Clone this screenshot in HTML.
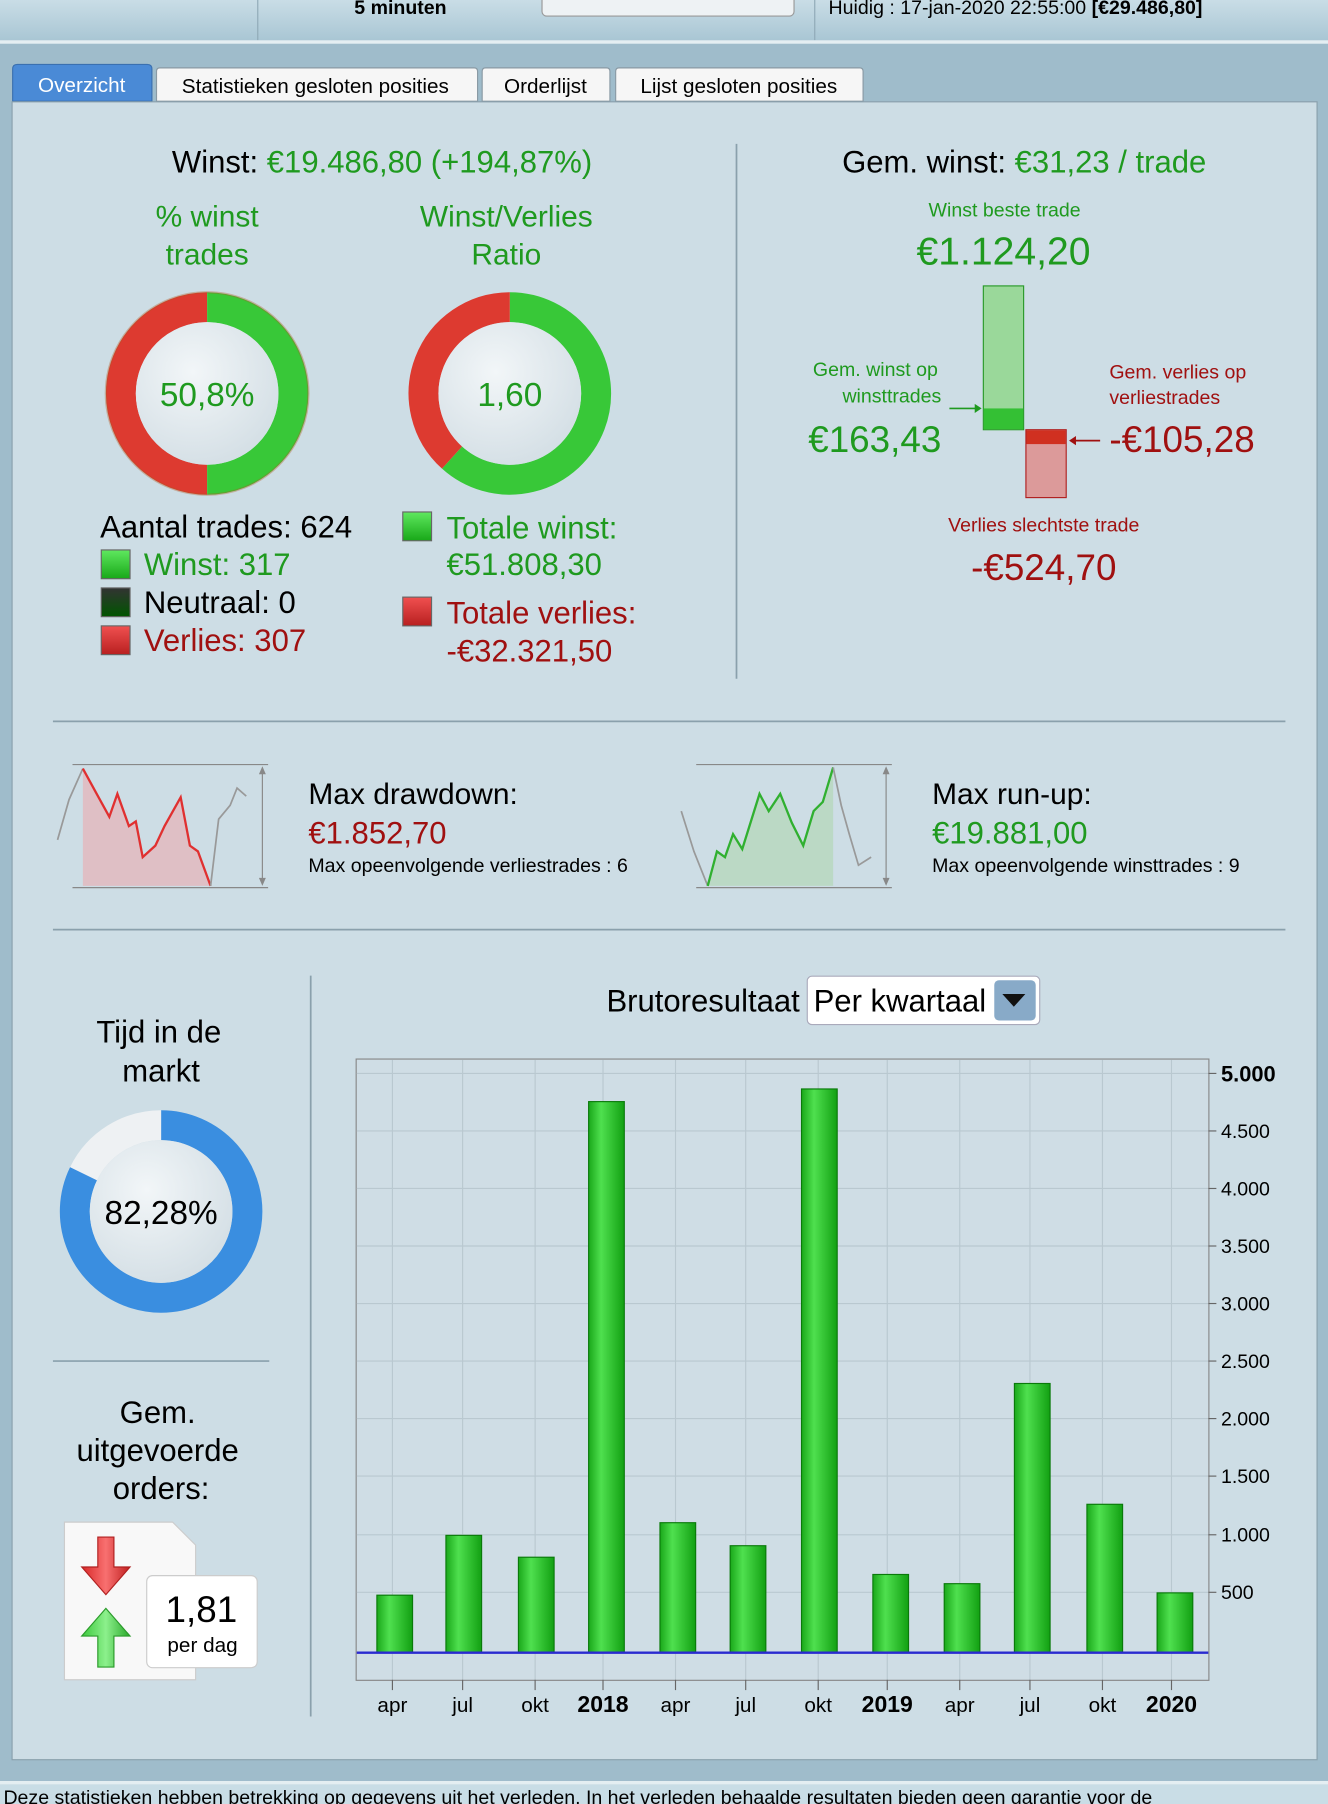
<!DOCTYPE html>
<html><head><meta charset="utf-8"><style>
html,body{margin:0;padding:0;width:1328px;height:1804px;overflow:hidden;background:#9fbccb}
svg{display:block}
text{font-family:"Liberation Sans",Arial,sans-serif}
</style></head><body>
<svg width="1328" height="1804" viewBox="0 0 1154 1568" preserveAspectRatio="none" xmlns="http://www.w3.org/2000/svg">
<defs>
<linearGradient id="top" x1="0" y1="0" x2="0" y2="1"><stop offset="0" stop-color="#c9dde6"/><stop offset="1" stop-color="#a9c6d4"/></linearGradient>
<linearGradient id="bar" x1="0" y1="0" x2="1" y2="0"><stop offset="0" stop-color="#1aa81a"/><stop offset="0.35" stop-color="#4fe04f"/><stop offset="1" stop-color="#12a012"/></linearGradient>
<radialGradient id="inner" cx="0.4" cy="0.35" r="0.8"><stop offset="0" stop-color="#f2f6f8"/><stop offset="1" stop-color="#cfdbe2"/></radialGradient>
<linearGradient id="gsq" x1="0" y1="0" x2="0" y2="1"><stop offset="0" stop-color="#5fe85f"/><stop offset="1" stop-color="#18a818"/></linearGradient>
<linearGradient id="rsq" x1="0" y1="0" x2="0" y2="1"><stop offset="0" stop-color="#f05050"/><stop offset="1" stop-color="#b82020"/></linearGradient>
<linearGradient id="ksq" x1="0" y1="0" x2="0" y2="1"><stop offset="0" stop-color="#333"/><stop offset="1" stop-color="#050"/></linearGradient>
<linearGradient id="ga" x1="0" y1="0" x2="1" y2="0"><stop offset="0" stop-color="#3cc83c"/><stop offset="0.5" stop-color="#8cf08c"/><stop offset="1" stop-color="#2aa82a"/></linearGradient>
<linearGradient id="ra" x1="0" y1="0" x2="1" y2="0"><stop offset="0" stop-color="#d82828"/><stop offset="0.5" stop-color="#f87070"/><stop offset="1" stop-color="#c02020"/></linearGradient>
</defs>
<rect x="0" y="0" width="1154" height="35" fill="url(#top)"/>
<line x1="224" y1="0" x2="224" y2="35" stroke="#8fa9b6"/>
<line x1="708" y1="0" x2="708" y2="35" stroke="#8fa9b6"/>
<text x="348" y="12" font-size="17" font-weight="bold" text-anchor="middle">5 minuten</text>
<rect x="471" y="-6" width="219" height="20" rx="4" fill="#eef2f4" stroke="#999"/>
<text x="720" y="12" font-size="17">Huidig :  17-jan-2020 22:55:00  <tspan font-weight="bold">[€29.486,80]</tspan></text>
<rect x="0" y="35" width="1154" height="3" fill="#e4eef2"/>
<path d="M11,88 V60 Q11,56 15,56 H128 Q132,56 132,60 V88 Z" fill="#4a8ad6" stroke="#3a70b0"/>
<text x="71" y="80" font-size="18" fill="#fff" text-anchor="middle">Overzicht</text>
<g fill="#f6f6f6" stroke="#8a9aa4">
<path d="M136,88 V62 Q136,59 139,59 H412 Q415,59 415,62 V88 Z"/>
<path d="M419,88 V62 Q419,59 422,59 H527 Q530,59 530,62 V88 Z"/>
<path d="M535,88 V62 Q535,59 538,59 H747 Q750,59 750,62 V88 Z"/>
</g>
<text x="274" y="81" font-size="18" text-anchor="middle">Statistieken gesloten posities</text>
<text x="474" y="81" font-size="18" text-anchor="middle">Orderlijst</text>
<text x="642" y="81" font-size="18" text-anchor="middle">Lijst gesloten posities</text>
<rect x="10.5" y="88.5" width="1134" height="1441" fill="#cddde5" stroke="#8aa0ac"/>
<text x="332" y="150" font-size="27" text-anchor="middle">Winst: <tspan fill="#1f9a1f">€19.486,80 (+194,87%)</tspan></text>
<g fill="#1f9a1f" font-size="26" text-anchor="middle">
<text x="180" y="197">% winst</text><text x="180" y="230">trades</text>
<text x="440" y="197">Winst/Verlies</text><text x="440" y="230">Ratio</text>
</g>
<path d="M180,267 A75,75 0 0 0 180,417" fill="none" stroke="#dd3a30" stroke-width="26"/>
<path d="M180,267 A75,75 0 0 1 180,417" fill="none" stroke="#38c838" stroke-width="26"/>
<circle cx="180" cy="342" r="88" fill="none" stroke="#b05a20" stroke-opacity="0.35" stroke-width="2"/>
<circle cx="180" cy="342" r="62" fill="url(#inner)"/>
<text x="180" y="353" font-size="29" fill="#1f9a1f" text-anchor="middle">50,8%</text>
<path d="M443,267 A75,75 0 1 1 392.8,397.7" fill="none" stroke="#38c838" stroke-width="26"/>
<path d="M392.8,397.7 A75,75 0 0 1 443,267" fill="none" stroke="#dd3a30" stroke-width="26"/>
<circle cx="443" cy="342" r="62" fill="url(#inner)"/>
<text x="443" y="353" font-size="29" fill="#1f9a1f" text-anchor="middle">1,60</text>
<text x="87" y="467" font-size="27">Aantal trades: 624</text>
<rect x="88" y="478" width="25" height="25" fill="url(#gsq)" stroke="#666"/>
<text x="125" y="500" font-size="27" fill="#1f9a1f">Winst: 317</text>
<rect x="88" y="511" width="25" height="25" fill="url(#ksq)" stroke="#666"/>
<text x="125" y="533" font-size="27">Neutraal: 0</text>
<rect x="88" y="544" width="25" height="25" fill="url(#rsq)" stroke="#666"/>
<text x="125" y="566" font-size="27" fill="#a01010">Verlies: 307</text>
<rect x="350" y="445" width="25" height="25" fill="url(#gsq)" stroke="#666"/>
<text x="388" y="468" font-size="27" fill="#1f9a1f">Totale winst:</text>
<text x="388" y="500" font-size="27" fill="#1f9a1f">€51.808,30</text>
<rect x="350" y="519" width="25" height="25" fill="url(#rsq)" stroke="#666"/>
<text x="388" y="542" font-size="27" fill="#a01010">Totale verlies:</text>
<text x="388" y="575" font-size="27" fill="#a01010">-€32.321,50</text>
<line x1="640" y1="125" x2="640" y2="590" stroke="#8aa0ac" stroke-width="1.5"/>
<text x="890" y="150" font-size="27" text-anchor="middle">Gem. winst: <tspan fill="#1f9a1f">€31,23 / trade</tspan></text>
<text x="873" y="188" font-size="17" fill="#1f9a1f" text-anchor="middle">Winst beste trade</text>
<text x="872" y="230" font-size="34" fill="#1f9a1f" text-anchor="middle">€1.124,20</text>
<rect x="854.5" y="248.5" width="35" height="125" fill="#9ad89a" stroke="#2a9a2a"/>
<rect x="855" y="355" width="34" height="18" fill="#34c034"/>
<rect x="891.5" y="373.5" width="35" height="59" fill="#dc9a9a" stroke="#b02020"/>
<rect x="892" y="374" width="34" height="12" fill="#d03020"/>
<line x1="825" y1="355" x2="850" y2="355" stroke="#1f9a1f" stroke-width="1.5"/>
<path d="M853,355 l-6,-4 v8 z" fill="#1f9a1f"/>
<line x1="932" y1="383" x2="956" y2="383" stroke="#a01010" stroke-width="1.5"/>
<path d="M929,383 l6,-4 v8 z" fill="#a01010"/>
<g font-size="17" fill="#1f9a1f" text-anchor="end"><text x="815" y="327">Gem. winst op</text><text x="818" y="350">winsttrades</text></g>
<text x="818" y="393" font-size="32" fill="#1f9a1f" text-anchor="end">€163,43</text>
<g font-size="17" fill="#a01010"><text x="964" y="329">Gem. verlies op</text><text x="964" y="351">verliestrades</text></g>
<text x="964" y="393" font-size="32" fill="#a01010">-€105,28</text>
<text x="907" y="462" font-size="17" fill="#a01010" text-anchor="middle">Verlies slechtste trade</text>
<text x="907" y="504" font-size="32" fill="#a01010" text-anchor="middle">-€524,70</text>
<line x1="46" y1="627" x2="1117" y2="627" stroke="#8aa0ac" stroke-width="1.5"/>
<line x1="46" y1="808" x2="1117" y2="808" stroke="#8aa0ac" stroke-width="1.5"/>
<polygon points="72,668 84,690 95,710 102,690 112,718 118,714 124,745 135,735 143,718 157,693 165,735 172,740 183,770 72,770" fill="#e4b8bd" opacity="0.8"/>
<polyline points="50,730 60,695 72,668" fill="none" stroke="#999" stroke-width="1.5"/>
<polyline points="72,668 84,690 95,710 102,690 112,718 118,714 124,745 135,735 143,718 157,693 165,735 172,740 183,770" fill="none" stroke="#e03030" stroke-width="2"/>
<polyline points="183,770 190,712 200,700 206,685 214,692" fill="none" stroke="#999" stroke-width="1.5"/>
<line x1="63" y1="664.5" x2="233" y2="664.5" stroke="#888"/><line x1="63" y1="771.5" x2="233" y2="771.5" stroke="#888"/>
<line x1="228" y1="668" x2="228" y2="768" stroke="#888"/>
<path d="M228,666 l-3,7 h6z M228,770 l-3,-7 h6z" fill="#888"/>
<text x="268" y="699" font-size="26">Max drawdown:</text>
<text x="268" y="733" font-size="27" fill="#a01010">€1.852,70</text>
<text x="268" y="758" font-size="17">Max opeenvolgende verliestrades : 6</text>
<polygon points="615,770 623,740 630,745 637,725 645,738 660,690 668,705 678,690 688,715 698,735 707,705 715,697 724,667 724,770" fill="#b6d8bd" opacity="0.8"/>
<polyline points="592,705 603,740 615,770" fill="none" stroke="#999" stroke-width="1.5"/>
<polyline points="615,770 623,740 630,745 637,725 645,738 660,690 668,705 678,690 688,715 698,735 707,705 715,697 724,667" fill="none" stroke="#30b030" stroke-width="2"/>
<polyline points="724,667 731,700 738,725 746,752 757,745" fill="none" stroke="#999" stroke-width="1.5"/>
<line x1="605" y1="664.5" x2="775" y2="664.5" stroke="#888"/><line x1="605" y1="771.5" x2="775" y2="771.5" stroke="#888"/>
<line x1="770" y1="668" x2="770" y2="768" stroke="#888"/>
<path d="M770,666 l-3,7 h6z M770,770 l-3,-7 h6z" fill="#888"/>
<text x="810" y="699" font-size="26">Max run-up:</text>
<text x="810" y="733" font-size="27" fill="#1f9a1f">€19.881,00</text>
<text x="810" y="758" font-size="17">Max opeenvolgende winsttrades : 9</text>
<text x="138" y="906" font-size="27" text-anchor="middle">Tijd in de</text>
<text x="140" y="940" font-size="27" text-anchor="middle">markt</text>
<path d="M140,978 A75,75 0 1 1 72.6,1020.1" fill="none" stroke="#3a8ee0" stroke-width="26"/>
<path d="M72.6,1020.1 A75,75 0 0 1 140,978" fill="none" stroke="#eef1f3" stroke-width="26"/>
<circle cx="140" cy="1053" r="62" fill="url(#inner)"/>
<text x="140" y="1064" font-size="29" text-anchor="middle">82,28%</text>
<line x1="46" y1="1183" x2="234" y2="1183" stroke="#8aa0ac" stroke-width="1.5"/>
<text x="137" y="1237" font-size="27" text-anchor="middle">Gem.</text>
<text x="137" y="1270" font-size="27" text-anchor="middle">uitgevoerde</text>
<text x="140" y="1303" font-size="27" text-anchor="middle">orders:</text>
<path d="M56,1323 H150 L170,1343 V1460 H56 Z" fill="#f8f8f8" stroke="#ccc"/>
<polygon points="85,1336 99,1336 99,1362 113,1362 92,1386 71,1362 85,1362" fill="url(#ra)" stroke="#b02020"/>
<polygon points="92,1398 113,1422 99,1422 99,1449 85,1449 85,1422 71,1422" fill="url(#ga)" stroke="#2a9a2a"/>
<rect x="127.5" y="1369.5" width="96" height="80" rx="5" fill="#fff" stroke="#ccc"/>
<text x="175" y="1410" font-size="32" text-anchor="middle">1,81</text>
<text x="176" y="1436" font-size="18" text-anchor="middle">per dag</text>
<line x1="270" y1="848" x2="270" y2="1492" stroke="#8aa0ac" stroke-width="1.5"/>
<text x="695" y="879" font-size="27" text-anchor="end">Brutoresultaat</text>
<rect x="701.5" y="848.5" width="202" height="42" rx="4" fill="#fff" stroke="#aab"/>
<text x="707" y="879" font-size="27">Per kwartaal</text>
<rect x="864" y="852" width="36" height="35" rx="4" fill="#88aac8"/>
<path d="M871,864 h20 l-10,11 z" fill="#111"/>
<rect x="309.5" y="920.5" width="741" height="540" fill="#cfdde5" stroke="#888"/>
<g stroke="#b9c8d0" stroke-width="1">
<line x1="310" y1="933" x2="1050" y2="933"/><line x1="310" y1="983" x2="1050" y2="983"/><line x1="310" y1="1033" x2="1050" y2="1033"/><line x1="310" y1="1083" x2="1050" y2="1083"/><line x1="310" y1="1133" x2="1050" y2="1133"/><line x1="310" y1="1183" x2="1050" y2="1183"/><line x1="310" y1="1233" x2="1050" y2="1233"/><line x1="310" y1="1283" x2="1050" y2="1283"/><line x1="310" y1="1334" x2="1050" y2="1334"/><line x1="310" y1="1384" x2="1050" y2="1384"/>
<line x1="341" y1="921" x2="341" y2="1460"/><line x1="402" y1="921" x2="402" y2="1460"/><line x1="465" y1="921" x2="465" y2="1460"/><line x1="524" y1="921" x2="524" y2="1460"/><line x1="587" y1="921" x2="587" y2="1460"/><line x1="648" y1="921" x2="648" y2="1460"/><line x1="711" y1="921" x2="711" y2="1460"/><line x1="771" y1="921" x2="771" y2="1460"/><line x1="834" y1="921" x2="834" y2="1460"/><line x1="895" y1="921" x2="895" y2="1460"/><line x1="958" y1="921" x2="958" y2="1460"/><line x1="1018" y1="921" x2="1018" y2="1460"/>
</g>
<g fill="url(#bar)" stroke="#0a7a0a">
<rect x="327.5" y="1386.5" width="31" height="50"/>
<rect x="387.5" y="1334.5" width="31" height="102"/>
<rect x="450.5" y="1353.5" width="31" height="83"/>
<rect x="511.5" y="957.5" width="31" height="479"/>
<rect x="573.5" y="1323.5" width="31" height="113"/>
<rect x="634.5" y="1343.5" width="31" height="93"/>
<rect x="696.5" y="946.5" width="31" height="490"/>
<rect x="758.5" y="1368.5" width="31" height="68"/>
<rect x="820.5" y="1376.5" width="31" height="60"/>
<rect x="881.5" y="1202.5" width="31" height="234"/>
<rect x="944.5" y="1307.5" width="31" height="129"/>
<rect x="1005.5" y="1384.5" width="31" height="52"/>
</g>
<line x1="310" y1="1436.5" x2="1050" y2="1436.5" stroke="#2a2ad0" stroke-width="2"/>
<g stroke="#666"><line x1="341" y1="1460" x2="341" y2="1469"/><line x1="402" y1="1460" x2="402" y2="1469"/><line x1="465" y1="1460" x2="465" y2="1469"/><line x1="524" y1="1460" x2="524" y2="1469"/><line x1="587" y1="1460" x2="587" y2="1469"/><line x1="648" y1="1460" x2="648" y2="1469"/><line x1="711" y1="1460" x2="711" y2="1469"/><line x1="771" y1="1460" x2="771" y2="1469"/><line x1="834" y1="1460" x2="834" y2="1469"/><line x1="895" y1="1460" x2="895" y2="1469"/><line x1="958" y1="1460" x2="958" y2="1469"/><line x1="1018" y1="1460" x2="1018" y2="1469"/>
<line x1="1050" y1="933" x2="1057" y2="933"/><line x1="1050" y1="983" x2="1057" y2="983"/><line x1="1050" y1="1033" x2="1057" y2="1033"/><line x1="1050" y1="1083" x2="1057" y2="1083"/><line x1="1050" y1="1133" x2="1057" y2="1133"/><line x1="1050" y1="1183" x2="1057" y2="1183"/><line x1="1050" y1="1233" x2="1057" y2="1233"/><line x1="1050" y1="1283" x2="1057" y2="1283"/><line x1="1050" y1="1334" x2="1057" y2="1334"/><line x1="1050" y1="1384" x2="1057" y2="1384"/></g>
<g font-size="18" text-anchor="middle">
<text x="341" y="1488">apr</text><text x="402" y="1488">jul</text><text x="465" y="1488">okt</text><text x="524" y="1488" font-weight="bold" font-size="20">2018</text>
<text x="587" y="1488">apr</text><text x="648" y="1488">jul</text><text x="711" y="1488">okt</text><text x="771" y="1488" font-weight="bold" font-size="20">2019</text>
<text x="834" y="1488">apr</text><text x="895" y="1488">jul</text><text x="958" y="1488">okt</text><text x="1018" y="1488" font-weight="bold" font-size="20">2020</text>
</g>
<g font-size="17">
<text x="1061" y="940" font-weight="bold" font-size="19">5.000</text><text x="1061" y="989">4.500</text><text x="1061" y="1039">4.000</text><text x="1061" y="1089">3.500</text><text x="1061" y="1139">3.000</text><text x="1061" y="1189">2.500</text><text x="1061" y="1239">2.000</text><text x="1061" y="1289">1.500</text><text x="1061" y="1340">1.000</text><text x="1061" y="1390">500</text>
</g>
<rect x="0" y="1548" width="1154" height="3" fill="#e4eef2"/>
<rect x="0" y="1551" width="1154" height="17" fill="#c9dde6"/>
<text x="3" y="1568" font-size="17">Deze statistieken hebben betrekking op gegevens uit het verleden. In het verleden behaalde resultaten bieden geen garantie voor de</text>
</svg>
</body></html>
